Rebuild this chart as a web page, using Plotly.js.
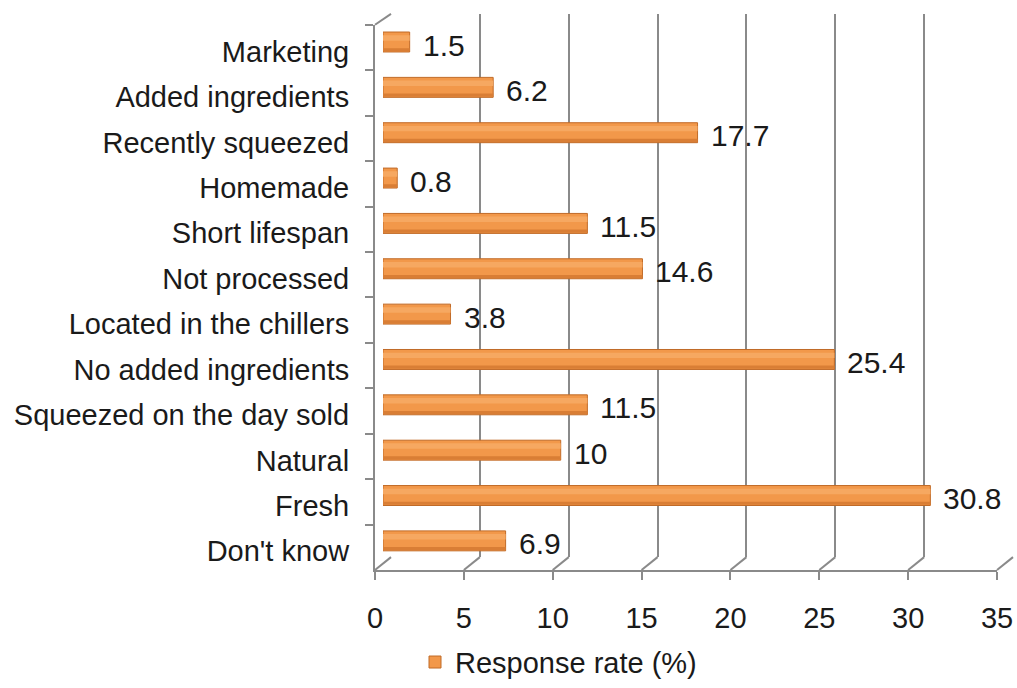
<!DOCTYPE html>
<html>
<head>
<meta charset="utf-8">
<script src="https://cdn.plot.ly/plotly-3.0.1.min.js"></script>
<style>html,body{margin:0;padding:0;background:#fff;}#chart{width:1017px;height:688px;}</style>
</head>
<body>
<div id="chart"></div>
<script>
// ---- data ----
const categories = ["Marketing","Added ingredients","Recently squeezed","Homemade","Short lifespan","Not processed","Located in the chillers","No added ingredients","Squeezed on the day sold","Natural","Fresh","Don't know"];
const values = [1.5, 6.2, 17.7, 0.8, 11.5, 14.6, 3.8, 25.4, 11.5, 10, 30.8, 6.9];
const xTickVals = [0, 5, 10, 15, 20, 25, 30, 35];
const seriesName = "Response rate (%)";

// ---- geometry (pixels) ----
const W = 1017, H = 688;
const px = v => v / W;
const py = v => 1 - v / H;
const FONT = "Liberation Sans, Arial, sans-serif";
const GRID = "#8a8a8a";
const TXT = '#1a1a1a';
const XMAX = 35;

const front = {x0: 375, x1: 997, yTop: 25, yBot: 575};
const back  = {x0: 391, x1: 1013, yTop: 14, yBot: 562};
const mid   = {x0: 383, x1: 1005, yTop: 19.5, yBot: 568.5};

const traces = [
  {type: 'bar', orientation: 'h', name: seriesName, x: values, y: categories,
   xaxis: 'x3', yaxis: 'y3', width: 0.44,
   marker: {color: '#F2984A', line: {color: '#C06A27', width: 1}},
   hoverinfo: 'x+y', showlegend: true},
  {type: 'bar', orientation: 'h', x: values, y: categories, xaxis: 'x3', yaxis: 'y3',
   width: 0.07, offset: 0.135, marker: {color: '#D97E35', line: {width: 0}},
   hoverinfo: 'skip', showlegend: false},
  {type: 'bar', orientation: 'h', x: values, y: categories, xaxis: 'x3', yaxis: 'y3',
   width: 0.12, offset: -0.15, marker: {color: '#F6A861', line: {width: 0}},
   hoverinfo: 'skip', showlegend: false},
  {type: 'scatter', x: [], y: [], xaxis: 'x', yaxis: 'y', hoverinfo: 'skip', showlegend: false},
  {type: 'scatter', x: [], y: [], xaxis: 'x2', yaxis: 'y2', hoverinfo: 'skip', showlegend: false}
];

// connectors from back wall to front axis (3-D floor edges)
const shapes = xTickVals.map(v => {
  const f = front.x0 + v / XMAX * (front.x1 - front.x0);
  const b = back.x0 + v / XMAX * (back.x1 - back.x0);
  return {type: 'line', xref: 'paper', yref: 'paper',
          x0: px(b), y0: py(back.yBot), x1: px(f), y1: py(front.yBot),
          line: {color: GRID, width: 2}};
});
shapes.push({type: 'line', xref: 'paper', yref: 'paper',
  x0: px(front.x0), y0: py(front.yTop), x1: px(back.x0), y1: py(back.yTop),
  line: {color: GRID, width: 2}});

const annotations = values.map((v, i) => ({
  xref: 'x3', yref: 'y3', x: v, y: categories[i], text: String(v),
  xanchor: 'left', yanchor: 'middle', xshift: 11, yshift: -3, showarrow: false,
  font: {family: FONT, size: 30, color: TXT}
}));

const layout = {
  width: W, height: H, autosize: false,
  margin: {l: 0, r: 0, t: 0, b: 0},
  paper_bgcolor: '#fff', plot_bgcolor: 'rgba(0,0,0,0)',
  font: {family: FONT, size: 29, color: TXT},
  barmode: 'overlay',
  showlegend: true,
  legend: {orientation: 'h', x: px(415), xanchor: 'left', y: py(668), yanchor: 'middle',
           font: {family: FONT, size: 29, color: TXT}, bgcolor: 'rgba(0,0,0,0)'},
  xaxis: {domain: [px(front.x0), px(front.x1)], range: [0, XMAX], anchor: 'y',
          tickvals: xTickVals, ticks: 'outside', ticklen: 8, tickwidth: 2, tickcolor: GRID,
          showline: true, linecolor: GRID, linewidth: 2, showgrid: false, zeroline: false,
          tickfont: {family: FONT, size: 29, color: TXT}, ticklabelstandoff: 13,
          fixedrange: true},
  yaxis: {domain: [py(front.yBot), py(front.yTop)], anchor: 'x', type: 'category',
          categoryorder: 'array', categoryarray: categories, range: [categories.length - 0.5, -0.5],
          tickson: 'boundaries', ticks: 'outside', ticklen: 8, tickwidth: 2, tickcolor: GRID,
          showline: true, linecolor: GRID, linewidth: 2, showgrid: false, zeroline: false,
          tickfont: {family: FONT, size: 29, color: TXT}, ticklabelstandoff: 18,
          ticklabelshift: -4, fixedrange: true},
  xaxis2: {domain: [px(back.x0), px(back.x1)], range: [0, XMAX], anchor: 'y2',
           dtick: 5, tick0: 0, showgrid: true, gridcolor: GRID, gridwidth: 2,
           showticklabels: false, ticks: '', showline: false, zeroline: false, fixedrange: true},
  yaxis2: {domain: [py(back.yBot), py(back.yTop)], range: [0, 1], anchor: 'x2',
           showgrid: false, showticklabels: false, ticks: '', showline: false, zeroline: false,
           fixedrange: true},
  xaxis3: {domain: [px(mid.x0), px(mid.x1)], range: [0, XMAX], anchor: 'y3',
           showgrid: false, showticklabels: false, ticks: '', showline: false, zeroline: false,
           fixedrange: true},
  yaxis3: {domain: [py(mid.yBot), py(mid.yTop)], anchor: 'x3', type: 'category',
           categoryorder: 'array', categoryarray: categories, range: [categories.length - 0.5, -0.5],
           showgrid: false, showticklabels: false, ticks: '', showline: false, zeroline: false,
           fixedrange: true},
  shapes: shapes,
  annotations: annotations
};

Plotly.newPlot('chart', traces, layout, {displayModeBar: false, staticPlot: true});
</script>
</body>
</html>
